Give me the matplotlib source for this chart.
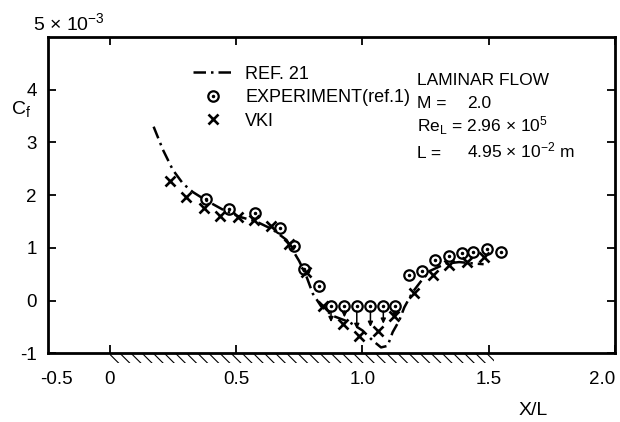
import numpy as np
import matplotlib
matplotlib.use('Agg')
import matplotlib.pyplot as plt
from matplotlib.patches import Rectangle
from matplotlib.legend_handler import HandlerTuple

plt.rcParams['font.family'] = ['Liberation Sans', 'DejaVu Sans']
plt.rcParams['mathtext.default'] = 'regular'
plt.rcParams['hatch.linewidth'] = 0.8

# REF. 21 skin friction curve
ref21_x = [0.174, 0.211, 0.25, 0.29, 0.329, 0.382, 0.45, 0.514, 0.58, 0.645,
           0.70, 0.725, 0.75, 0.777, 0.804, 0.837, 0.883, 0.949, 1.001, 1.041,
           1.074, 1.10, 1.12, 1.146, 1.166, 1.199, 1.239, 1.271, 1.33, 1.383,
           1.449, 1.48]
ref21_y = [3.30, 2.86, 2.48, 2.22, 2.06, 1.90, 1.72, 1.59, 1.50, 1.35,
           1.15, 0.95, 0.75, 0.48, 0.13, -0.11, -0.29, -0.41, -0.57, -0.76,
           -0.89, -0.86, -0.60, -0.38, -0.13, 0.16, 0.41, 0.57, 0.70, 0.73,
           0.70, 0.69]

# experiment (ref. 1)
exp_x = [0.382, 0.474, 0.577, 0.676, 0.729, 0.770, 0.830, 0.876, 0.929, 0.978,
         1.032, 1.083, 1.129, 1.186, 1.236, 1.287, 1.341, 1.393, 1.439, 1.493, 1.548]
exp_y = [1.92, 1.73, 1.66, 1.37, 1.04, 0.60, 0.28, -0.10, -0.10, -0.10,
         -0.10, -0.10, -0.10, 0.49, 0.57, 0.76, 0.84, 0.90, 0.93, 0.98, 0.93]

# separated region: measured points only give an upper bound
sep_x = [0.876, 0.929, 0.978, 1.032, 1.083, 1.129]
sep_y = [-0.10, -0.10, -0.10, -0.10, -0.10, -0.10]
sep_tip = [-0.41, -0.32, -0.54, -0.50, -0.44, -0.34]

# VKI computation
vki_x = [0.237, 0.303, 0.372, 0.435, 0.507, 0.573, 0.639, 0.708, 0.778, 0.843,
         0.922, 0.988, 1.062, 1.126, 1.203, 1.278, 1.344, 1.416, 1.482]
vki_y = [2.27, 1.96, 1.75, 1.61, 1.58, 1.52, 1.41, 1.08, 0.55, -0.10,
         -0.44, -0.67, -0.58, -0.29, 0.14, 0.48, 0.67, 0.74, 0.83]

xticks = [0, 0.5, 1.0, 1.5, 2.0]
xtick_labels = ['0', '0.5', '1.0', '1.5', '2.0']
yticks = [-1, 0, 1, 2, 3, 4]
ytick_labels = ['-1', '0', '1', '2', '3', '4']

fig = plt.figure(figsize=(6.2, 4.22), dpi=100)
ax = fig.add_axes([0.077, 0.163, 0.915, 0.749])

ln, = ax.plot(ref21_x, ref21_y, color='k', lw=1.8, dashes=(5, 2, 1, 2),
              label='REF. 21')
circ, = ax.plot(exp_x, exp_y, 'o', ms=7.5, mfc='none', mec='k', mew=1.6)
dot, = ax.plot(exp_x, exp_y, '.', ms=3, color='k')
crs, = ax.plot(vki_x, vki_y, 'x', ms=6.5, mew=1.9, color='k')

for x, y, t in zip(sep_x, sep_y, sep_tip):
    ax.annotate('', xy=(x, t), xytext=(x, y - 0.1),
                arrowprops=dict(arrowstyle='-|>', lw=1.1, color='k',
                                mutation_scale=7, shrinkA=0, shrinkB=0))

ax.legend([ln, (circ, dot), crs], ['REF. 21', 'EXPERIMENT(ref.1)', 'VKI'],
          handler_map={tuple: HandlerTuple(ndivide=1)},
          loc='upper left', bbox_to_anchor=(0.256, 0.91), frameon=False,
          fontsize=13, handlelength=2.2, handletextpad=0.7,
          labelspacing=0.36, borderpad=0, borderaxespad=0)

# wall hatching under the plate
ax.add_patch(Rectangle((0, -0.03), 1.52, 0.03,
                       transform=ax.get_xaxis_transform(), fill=False,
                       hatch='\\\\\\', lw=0, clip_on=False))

ax.set_xlim(-0.245, 2.0)
ax.set_ylim(-1, 5)
ax.set_xticks(xticks)
ax.set_xticklabels(xtick_labels)
ax.set_yticks(yticks)
ax.set_yticklabels(ytick_labels)
ax.tick_params(direction='in', top=True, right=True, length=6, width=1.3,
               labelsize=13.5)
ax.tick_params(axis='x', pad=13)
ax.tick_params(axis='y', pad=8)
ax.get_xticklabels()[-1].set_ha('right')
for s in ax.spines.values():
    s.set_linewidth(2)

ax.annotate('-0.5', xy=(0, 0), xycoords='axes fraction', xytext=(6, -13),
            textcoords='offset points', ha='center', va='top', fontsize=13.5)

fig.text(0.053, 0.928, r'5 × 10$^{-3}$', fontsize=14, va='baseline')
fig.text(0.018, 0.742, r'C$_f$', fontsize=14, va='center')
fig.text(0.86, 0.028, 'X/L', fontsize=14, ha='center', va='center')

txt = dict(fontsize=12.5, va='baseline')
fig.text(0.673, 0.798, 'LAMINAR FLOW', **txt)
fig.text(0.673, 0.744, 'M =', **txt)
fig.text(0.753, 0.744, '2.0', **txt)
fig.text(0.673, 0.687, r'Re$_L$ = 2.96 × 10$^5$', **txt)
fig.text(0.673, 0.626, 'L =', **txt)
fig.text(0.753, 0.626, r'4.95 × 10$^{-2}$ m', **txt)

fig.savefig('out.png', dpi=100)
